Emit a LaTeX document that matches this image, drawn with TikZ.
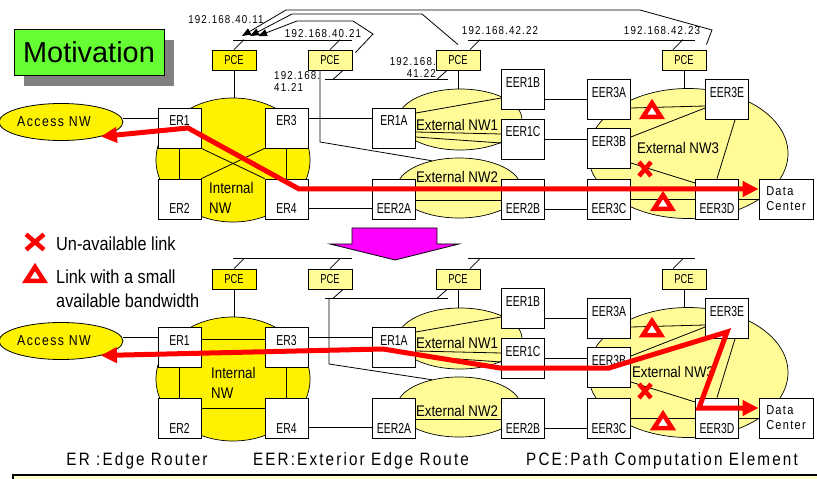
\documentclass[tikz,border=0pt]{standalone}
\usepackage{fontspec}
\setmainfont{Liberation Sans}
\newfontfamily\narrowfont[FakeStretch=0.72]{Liberation Sans}
\newfontfamily\nwfont[FakeStretch=0.86]{Liberation Sans}
\newfontfamily\ipfont[FakeStretch=0.85,LetterSpace=10]{Liberation Sans}
\newfontfamily\legfont[FakeStretch=0.85,LetterSpace=12]{Liberation Sans}
\usepackage{tikz}
\usetikzlibrary{positioning,calc,arrows.meta,shadows,shapes.geometric}
\definecolor{motivgreen}{RGB}{102,255,51}
\definecolor{shadowgray}{RGB}{128,128,128}
\definecolor{arrowpink}{RGB}{255,0,255}
\definecolor{notepanel}{RGB}{255,255,204}
\definecolor{dotyellow}{RGB}{255,251,150}

\begin{document}
\begin{tikzpicture}[x=1bp, y=-1bp,
  link/.style={draw=black, line width=0.8bp},
  dotfill/.style={fill=dotyellow},
  rtr/.style={draw=black, fill=white, line width=0.8bp, minimum width=43bp, inner xsep=0pt, inner ysep=3bp, font=\fontsize{14.5}{15}\narrowfont},
  rtrtop/.style={rtr, text height=15bp, text depth=19bp},
  rtrbot/.style={rtr, text height=32bp, text depth=2bp},
  dcbox/.style={draw=black, fill=white, line width=0.8bp, minimum width=54bp, minimum height=40bp, align=left, font=\fontsize{13}{15}\ipfont},
  pcebox/.style={draw=black, line width=0.8bp, fill=yellow, minimum width=44bp, minimum height=20bp, inner sep=0pt, font=\fontsize{13}{13}\narrowfont},
  pcedot/.style={pcebox, dotfill},
  intcloud/.style={ellipse, draw=black, line width=0.7bp, fill=yellow, minimum width=154bp, minimum height=124bp, inner sep=0pt},
  cloudnw/.style={ellipse, draw=black, line width=0.7bp, dotfill, inner sep=0pt},
  accnw/.style={ellipse, draw=black, line width=0.8bp, fill=yellow, minimum width=107bp, minimum height=37bp, inner sep=0pt, font=\fontsize{14.5}{15}\ipfont},
  nwlbl/.style={inner sep=0pt, font=\fontsize{15.5}{20}\nwfont},
  iplbl/.style={inner sep=0pt, font=\fontsize{11.5}{12.5}\ipfont},
  legtxt/.style={inner sep=0pt, font=\fontsize{19}{24}\nwfont},
  deflbl/.style={inner sep=0pt, font=\fontsize{18}{20}\legfont},
  titlebox/.style={draw=black, line width=0.8bp, fill=motivgreen, minimum width=150bp, minimum height=46bp, font=\fontsize{29}{30}\selectfont, drop shadow={shadow xshift=10bp, shadow yshift=-11bp, fill=shadowgray, opacity=1}},
  iparrow/.style={draw=black, line width=0.8bp, -{Triangle[length=9bp,width=7bp]}},
  redpath/.style={draw=red, line width=5bp, line join=miter, {Triangle[length=16bp,width=15bp]}-{Triangle[length=16bp,width=15bp]}},
  lowbw/.pic={\draw[draw=red, fill=white, line width=4.5bp, line join=miter] (-9,7) -- (9,7) -- (0,-7) -- cycle;},
  nolink/.pic={\draw[draw=red, line width=4.5bp] (-6,-7) -- (6,7) (-6,7) -- (6,-7);}]
\useasboundingbox (0,0) rectangle (817,479);

\node[titlebox] (motiv) at (89,52) {Motivation};

% upper network
\node[intcloud] (intt) at (233,160) {};
\node[cloudnw, minimum width=124bp, minimum height=61bp] (nw1t) at (460,119.5) {};
\node[cloudnw, minimum width=124bp, minimum height=60bp] (nw2t) at (459,188) {};
\node[cloudnw, minimum width=200bp, minimum height=130bp] (nw3t) at (688,153.5) {};
\node[accnw] (acct) at (61,122) {Access NW\hspace*{14bp}};

\node[rtrtop] (ER1t) at (179.5,128) {ER1};
\node[rtrtop] (ER3t) at (286.5,128) {ER3};
\node[rtrbot] (ER2t) at (179.5,199) {ER2};
\node[rtrbot] (ER4t) at (286.5,199) {ER4};
\node[rtrtop] (ER1At) at (394,128) {ER1A};
\node[rtrbot] (EER2At) at (394,199) {EER2A};
\node[rtrtop] (EER1Bt) at (523,89.5) {EER1B};
\node[rtrtop] (EER1Ct) at (523,139) {EER1C};
\node[rtrbot] (EER2Bt) at (523,199) {EER2B};
\node[rtrtop] (EER3At) at (609,99.5) {EER3A};
\node[rtrtop] (EER3Bt) at (609,148.5) {EER3B};
\node[rtrbot] (EER3Ct) at (609,199) {EER3C};
\node[rtrtop] (EER3Et) at (727,99.5) {EER3E};
\node[rtrbot] (EER3Dt) at (717,199) {EER3D};
\node[dcbox] (DCt) at (786,199) {Data\\Center};

\node[pcebox] (PCE1t) at (234,60) {PCE};
\node[pcedot] (PCE2t) at (330,60) {PCE};
\node[pcedot] (PCE3t) at (458,60) {PCE};
\node[pcedot] (PCE4t) at (684,60) {PCE};

\draw[link] (acct.east |- 0,118) -- (ER1t.west |- 0,118);
\draw[link] (ER1t) -- (ER2t);
\draw[link] (ER3t) -- (ER4t);
\draw[link] (ER1t.south east) -- (ER4t.north west);
\draw[link] (ER3t.south west) -- (ER2t.north east);
\draw[link] (ER3t.east |- 0,118) -- (ER1At.west |- 0,118);
\draw[link] (ER4t.east |- 0,208) -- (EER2At.west |- 0,208);
\draw[link] (ER1At.east |- 0,113) -- (EER1Bt.west |- 0,98);
\draw[link] (ER1At.east |- 0,132) -- (EER1Ct.west |- 0,134);
\draw[link] (ER1At.east |- 0,137) -- (EER1Ct.west |- 0,143);
\draw[link] (EER2At.east |- 0,200) -- (EER2Bt.west |- 0,200);
\draw[link] (EER1Bt.east |- 0,99) -- (EER3At.west |- 0,99);
\draw[link] (EER1Ct.east |- 0,139) -- (EER3Bt.west |- 0,139);
\draw[link] (EER2Bt.east |- 0,209) -- (EER3Ct.west |- 0,209);
\draw[link] (EER3At.east |- 0,108) -- (EER3Et.west |- 0,106);
\draw[link] (EER3Bt.east |- 0,137) -- (EER3Et.west |- 0,108);
\draw[link] (EER3Bt.east |- 0,163) -- (EER3Dt.west |- 0,183);
\draw[link] (EER3Ct) -- (EER3Dt);
\draw[link] (EER3Et.south -| 735,0) -- (EER3Dt.north -| 717,0);
\draw[link] (EER3Dt) -- (DCt);

\draw[link] (PCE1t) -- (PCE1t |- intt.north);
\draw[link] (PCE3t) -- (PCE3t |- nw1t.north);
\draw[link] (PCE4t) -- (PCE4t |- nw3t.north);
\draw[link] (233,40) -- (352,40);
\draw[link] (PCE1t.north) -- ++(10,-10);
\draw[link] (PCE2t.north) -- ++(10,-10);
\draw[link] (325,79) -- (448,79);
\draw[link] ([xshift=13bp]PCE2t.south) -- ++(-10,9);
\draw[link] ([xshift=-11bp]PCE3t.south) -- ++(-10,9);
\draw[link] ([xshift=-10bp]PCE2t.south) -- (320,142) -- (nw2t.135);
\draw[link] (468,40) -- (695,40);
\draw[link] ([xshift=12bp]PCE3t.north) -- ++(10,-10);
\draw[link] ([xshift=-11bp]PCE4t.north) -- ++(10,-10);

\coordinate (tipA) at (242,36);
\coordinate (tipB) at (250,36);
\coordinate (tipC) at (258,36);
\draw[iparrow] ([yshift=5bp]PCE4t.north east) -- (712,30) -- (640,10) -- (286,10) -- (tipA);
\draw[iparrow] ([yshift=5bp]PCE3t.north) -- (422,14) -- (292,14) -- (tipB);
\draw[iparrow] ([xshift=3bp,yshift=-3bp]PCE2t.north east) -- (373,34) -- (353,21) -- (297,21) -- (tipC);

\node[iplbl] (ip4011) at (226,20) {192.168.40.11};
\node[iplbl] (ip4021) at (323,34) {192.168.40.21};
\node[iplbl, anchor=west, align=left] (ip4121) at (274,81.5) {192.168.\\41.21};
\node[iplbl, anchor=east, align=right] (ip4122) at (436,67.5) {192.168.\\41.22};
\node[iplbl] (ip4222) at (500,31) {192.168.42.22};
\node[iplbl] (ip4223) at (662,31) {192.168.42.23};

\node[nwlbl] (nw1lblt) at (457,125) {External NW1};
\node[nwlbl] (nw2lblt) at (457,177) {External NW2};
\node[nwlbl] (nw3lblt) at (678,148) {External NW3};
\node[nwlbl, anchor=west, align=left] (intlblt) at (209,198) {Internal\\NW};

\draw[redpath] (acct.-20) -- (188,128) -- (299,189) -- ([yshift=10bp]DCt.west);
\pic at (652,110) {lowbw};
\pic at (663,202) {lowbw};
\pic at (645,169) {nolink};

% legend and transition arrow
\pic[xscale=1.5, yscale=1.1] at (35,242) {nolink};
\pic at (35,274) {lowbw};
\node[legtxt, anchor=west] (leg1) at (56,244) {Un-available link};
\node[legtxt, anchor=west, align=left] (leg2) at (56,289) {Link with a small\\available bandwidth};
\draw[fill=arrowpink, line width=0.8bp] (352,228) -- (437,228) -- (437,244) -- (459,244) -- (395,260) -- (330,244) -- (352,244) -- cycle;

% lower network
\node[intcloud] (intb) at (233,379) {};
\node[cloudnw, minimum width=124bp, minimum height=61bp] (nw1b) at (460,338.5) {};
\node[cloudnw, minimum width=124bp, minimum height=60bp] (nw2b) at (459,407) {};
\node[cloudnw, minimum width=200bp, minimum height=130bp] (nw3b) at (688,372.5) {};
\node[accnw] (accb) at (61,341) {Access NW\hspace*{14bp}};

\node[rtrtop] (ER1b) at (179.5,347) {ER1};
\node[rtrtop] (ER3b) at (286.5,347) {ER3};
\node[rtrbot] (ER2b) at (179.5,418) {ER2};
\node[rtrbot] (ER4b) at (286.5,418) {ER4};
\node[rtrtop] (ER1Ab) at (394,347) {ER1A};
\node[rtrbot] (EER2Ab) at (394,418) {EER2A};
\node[rtrtop] (EER1Bb) at (523,308.5) {EER1B};
\node[rtrtop] (EER1Cb) at (523,358) {EER1C};
\node[rtrbot] (EER2Bb) at (523,418) {EER2B};
\node[rtrtop] (EER3Ab) at (609,318.5) {EER3A};
\node[rtrtop] (EER3Bb) at (609,367.5) {EER3B};
\node[rtrbot] (EER3Cb) at (609,418) {EER3C};
\node[rtrtop] (EER3Eb) at (727,318.5) {EER3E};
\node[rtrbot] (EER3Db) at (717,418) {EER3D};
\node[dcbox] (DCb) at (786,418) {Data\\Center};

\node[pcebox] (PCE1b) at (234,279) {PCE};
\node[pcedot] (PCE2b) at (330,279) {PCE};
\node[pcedot] (PCE3b) at (458,279) {PCE};
\node[pcedot] (PCE4b) at (684,279) {PCE};

\draw[link] (accb.east |- 0,337) -- (ER1b.west |- 0,337);
\draw[link] (ER1b) -- (ER2b);
\draw[link] (ER3b) -- (ER4b);
\draw[link] (ER1b.east |- 0,339) -- (ER3b.west |- 0,339);
\draw[link] (ER2b.east |- 0,408) -- (ER4b.west |- 0,408);
\draw[link] (ER3b.east |- 0,337) -- (ER1Ab.west |- 0,337);
\draw[link] (ER4b.east |- 0,427) -- (EER2Ab.west |- 0,427);
\draw[link] (ER1Ab.east |- 0,332) -- (EER1Bb.west |- 0,317);
\draw[link] (ER1Ab.east |- 0,351) -- (EER1Cb.west |- 0,353);
\draw[link] (ER1Ab.east |- 0,356) -- (EER1Cb.west |- 0,362);
\draw[link] (EER2Ab.east |- 0,419) -- (EER2Bb.west |- 0,419);
\draw[link] (EER1Bb.east |- 0,318) -- (EER3Ab.west |- 0,318);
\draw[link] (EER1Cb.east |- 0,358) -- (EER3Bb.west |- 0,358);
\draw[link] (EER2Bb.east |- 0,428) -- (EER3Cb.west |- 0,428);
\draw[link] (EER3Ab.east |- 0,327) -- (EER3Eb.west |- 0,325);
\draw[link] (EER3Bb.east |- 0,356) -- (EER3Eb.west |- 0,327);
\draw[link] (EER3Bb.east |- 0,382) -- (EER3Db.west |- 0,402);
\draw[link] (EER3Cb) -- (EER3Db);
\draw[link] (EER3Eb.south -| 735,0) -- (EER3Db.north -| 717,0);
\draw[link] (EER3Db) -- (DCb);

\draw[link] (PCE1b) -- (PCE1b |- intb.north);
\draw[link] (PCE3b) -- (PCE3b |- nw1b.north);
\draw[link] (PCE4b) -- (PCE4b |- nw3b.north);
\draw[link] (233,258) -- (352,258);
\draw[link] (PCE1b.north) -- ++(10,-10);
\draw[link] (PCE2b.north) -- ++(10,-10);
\draw[link] (325,298) -- (448,298);
\draw[link] ([xshift=13bp]PCE2b.south) -- ++(-10,9);
\draw[link] ([xshift=-11bp]PCE3b.south) -- ++(-10,9);
\draw[link] (329,298) -- (329,364) -- (nw2b.135);
\draw[link] (468,258) -- (695,258);
\draw[link] ([xshift=12bp]PCE3b.north) -- ++(10,-10);
\draw[link] ([xshift=-11bp]PCE4b.north) -- ++(10,-10);

\node[nwlbl] (nw1lblb) at (457,343) {External NW1};
\node[nwlbl] (nw2lblb) at (457,411) {External NW2};
\node[nwlbl] (nw3lblb) at (673,372) {External NW3};
\node[nwlbl, anchor=west, align=left] (intlblb) at (211,383) {Internal\\NW};

\draw[redpath] (accb.-20) -- (383,349) -- (500,368) -- (609,368) -- (727,332) -- (699,408) -- ([yshift=10bp]DCb.west);
\pic at (652,328) {lowbw};
\pic at (663,421) {lowbw};
\pic at (645,391) {nolink};

% definitions
\node[deflbl] (defER) at (137,461) {ER :Edge Router};
\node[deflbl] (defEER) at (361,461) {EER:Exterior Edge Route};
\node[deflbl] (defPCE) at (662,461) {PCE:Path Computation Element};
\path[draw=black, line width=1.5bp, fill=notepanel] (13,475) rectangle (830,495);
\end{tikzpicture}
\end{document}
